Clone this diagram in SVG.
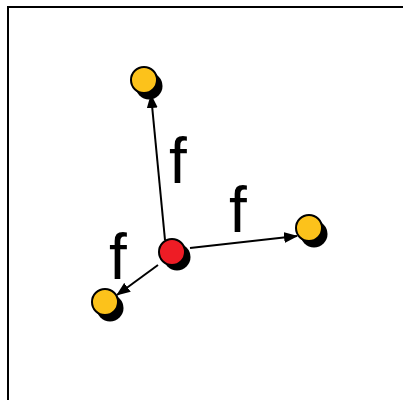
<svg xmlns="http://www.w3.org/2000/svg" width="403" height="400" viewBox="0 0 403 400">
<style>
.shadow{fill:#000}
.y{fill:#fcc21b;stroke:#000;stroke-width:2}
.r{fill:#ee1c25;stroke:#000;stroke-width:2}
.edge{stroke:#000;stroke-width:2;fill:none;marker-end:url(#ah)}
.lbl{font-family:"Liberation Sans",Arial,sans-serif;font-size:64px;fill:#000}
</style>
<defs>
<marker id="ah" markerWidth="14" markerHeight="11" refX="13" refY="5.5" orient="auto" markerUnits="userSpaceOnUse">
<path d="M0,0 L14,5.5 L0,11 z" fill="#000"/>
</marker>
</defs>
<rect x="8" y="7" width="420" height="420" fill="#fff" stroke="#000" stroke-width="2"/>
<g id="connectors">
<line class="edge" x1="165" y1="240" x2="151" y2="95"/>
<line class="edge" x1="190" y1="248" x2="297" y2="236"/>
<line class="edge" x1="158" y1="265" x2="117" y2="295"/>
</g>
<g id="n_center"><circle class="shadow" cx="177" cy="257" r="13.5"/><circle class="r" cx="172" cy="252" r="13"/></g>
<g id="n_top"><circle class="shadow" cx="149" cy="86" r="13.5"/><circle class="y" cx="144" cy="80" r="13"/></g>
<g id="n_right"><circle class="shadow" cx="314" cy="234" r="13.5"/><circle class="y" cx="309" cy="228" r="13"/></g>
<g id="n_left"><circle class="shadow" cx="110" cy="308" r="13.5"/><circle class="y" cx="105" cy="302" r="13"/></g>
<g id="labels">
<text class="lbl" x="169" y="183">f</text>
<text class="lbl" x="229" y="232">f</text>
<text class="lbl" x="109" y="279">f</text>
</g>
</svg>
